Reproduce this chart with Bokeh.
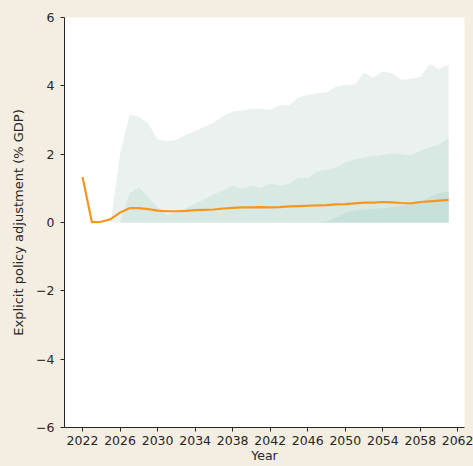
from bokeh.plotting import figure
from bokeh.models import FixedTicker, Range1d
from bokeh.embed import file_html
from bokeh.resources import INLINE

# Central projection (orange line)
line_years = list(range(2022, 2062))
line_values = [1.33, 0.01, 0.02, 0.10, 0.29, 0.42, 0.42, 0.39, 0.35, 0.33,
               0.33, 0.34, 0.36, 0.37, 0.38, 0.41, 0.43, 0.44, 0.44, 0.45,
               0.44, 0.45, 0.47, 0.48, 0.49, 0.50, 0.51, 0.53, 0.54, 0.56,
               0.58, 0.58, 0.60, 0.59, 0.57, 0.56, 0.60, 0.62, 0.64, 0.66]

# Fan bands (all from 0 up to the upper percentile)
band_years = list(range(2025, 2062))
outer_upper = [0.0, 2.0, 3.15, 3.1, 2.9, 2.43, 2.38, 2.42, 2.57, 2.68,
               2.8, 2.93, 3.12, 3.25, 3.28, 3.32, 3.34, 3.3, 3.43, 3.43,
               3.66, 3.73, 3.78, 3.81, 3.97, 4.03, 4.03, 4.38, 4.23, 4.42,
               4.37, 4.18, 4.2, 4.27, 4.64, 4.49, 4.62]
middle_upper = [0.0, 0.0, 0.85, 1.03, 0.75, 0.45, 0.22, 0.3, 0.42, 0.55,
                0.68, 0.82, 0.95, 1.08, 0.98, 1.08, 1.02, 1.14, 1.08, 1.13,
                1.31, 1.3, 1.5, 1.54, 1.6, 1.75, 1.85, 1.9, 1.95, 1.98,
                2.03, 2.0, 1.96, 2.1, 2.2, 2.28, 2.48]
inner_upper = [0.0] * 22 + [0.0, 0.03, 0.15, 0.28, 0.35, 0.38, 0.4, 0.42,
                            0.45, 0.5, 0.53, 0.6, 0.75, 0.85, 0.92]

x_ticks = list(range(2022, 2063, 4))
y_ticks = [-6, -4, -2, 0, 2, 4, 6]
y_tick_labels = {t: (str(t) if t >= 0 else "\u2212" + str(-t)) for t in y_ticks}

BG = "#f3ede2"
TXT = "#262626"

p = figure(width=473, height=466, output_backend="svg", toolbar_location=None,
           x_range=Range1d(2020.08, 2062.7), y_range=Range1d(-6, 6),
           min_border_left=64, min_border_right=9, min_border_top=17,
           min_border_bottom=39)
p.background_fill_color = "white"
p.border_fill_color = BG
p.outline_line_color = None
p.grid.visible = False

zeros = [0.0] * len(band_years)
p.varea(x=band_years, y1=zeros, y2=outer_upper, fill_color="#eaf1ee")
p.varea(x=band_years, y1=zeros, y2=middle_upper, fill_color="#d8e8e3")
p.varea(x=band_years, y1=zeros, y2=inner_upper, fill_color="#c6e0da")
p.line(line_years, line_values, line_color="#f7961e", line_width=2.2)

for ax in (p.xaxis, p.yaxis):
    ax.axis_line_color = TXT
    ax.major_tick_line_color = TXT
    ax.major_tick_out = 4
    ax.major_tick_in = 0
    ax.minor_tick_line_color = None
    ax.major_label_text_font = "DejaVu Sans"
    ax.major_label_text_font_size = "12.5px"
    ax.major_label_text_color = TXT
    ax.axis_label_text_font = "DejaVu Sans"
    ax.axis_label_text_font_style = "normal"
    ax.axis_label_text_color = TXT

p.xaxis.axis_label_text_font_size = "12.5px"
p.yaxis.axis_label_text_font_size = "13px"
p.xaxis.ticker = FixedTicker(ticks=x_ticks)
p.yaxis.ticker = FixedTicker(ticks=y_ticks)
p.yaxis.major_label_overrides = y_tick_labels
p.xaxis.axis_label = "Year"
p.yaxis.axis_label = "Explicit policy adjustment (% GDP)"
p.xaxis.major_label_standoff = 4
p.yaxis.major_label_standoff = 6
p.xaxis.axis_label_standoff = 0
p.yaxis.axis_label_standoff = 7

html = file_html(p, INLINE)
html = html.replace("<head>", "<head><style>html,body{background:%s;overflow:hidden;}</style>" % BG, 1)
open("out.html", "w").write(html)
